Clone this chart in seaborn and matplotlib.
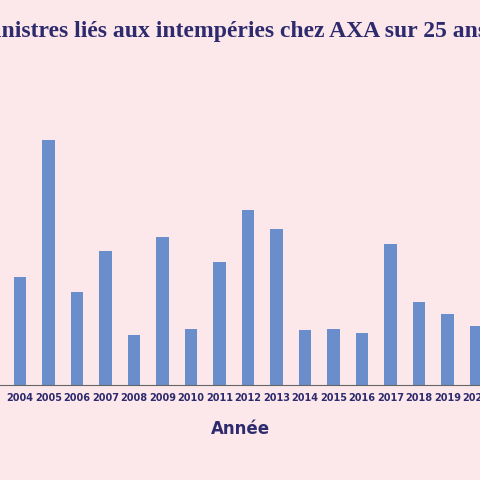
import matplotlib
matplotlib.use("Agg")
import matplotlib.pyplot as plt
import seaborn as sns
import pandas as pd

years = [str(y) for y in range(2003, 2022)]
values = [120, 108, 245, 93, 134, 50, 148, 56, 123, 175, 156, 55, 56, 52, 141, 83, 71, 59, 60]

sns.set_theme(style="white")
bg = "#fce8ea"
navy = "#2e2a6e"
fig = plt.figure(figsize=(4.8, 4.8), dpi=100, facecolor=bg)
ax = fig.add_axes([0, 95/480, 1, 385/480])
ax.set_facecolor(bg)
df = pd.DataFrame({"Année": years, "v": values})
sns.barplot(data=df, x="Année", y="v", color="#6a8ecb", width=0.44, saturation=1,
            linewidth=0, ax=ax)
ax.set_xlim(8.5/28.5, 488.5/28.5)
ax.set_ylim(0, 385)
for s in ["top", "right", "left"]:
    ax.spines[s].set_visible(False)
ax.spines["bottom"].set_color("#666666")
ax.spines["bottom"].set_linewidth(0.8)
ax.set_yticks([])
ax.set_ylabel("")
ax.tick_params(axis="x", length=0, pad=6, labelsize=7, labelcolor=navy)
for t in ax.get_xticklabels():
    t.set_fontweight("semibold")
ax.set_xlabel("Année", fontsize=12, fontweight="bold", color=navy, labelpad=12)
fig.text(487/480, 1 - 31/480, "Nombre de sinistres liés aux intempéries chez AXA sur 25 ans",
         ha="right", va="center", fontsize=17, fontweight="bold", color=navy,
         family="Liberation Serif")
fig.savefig("out.png", dpi=100, facecolor=bg)
